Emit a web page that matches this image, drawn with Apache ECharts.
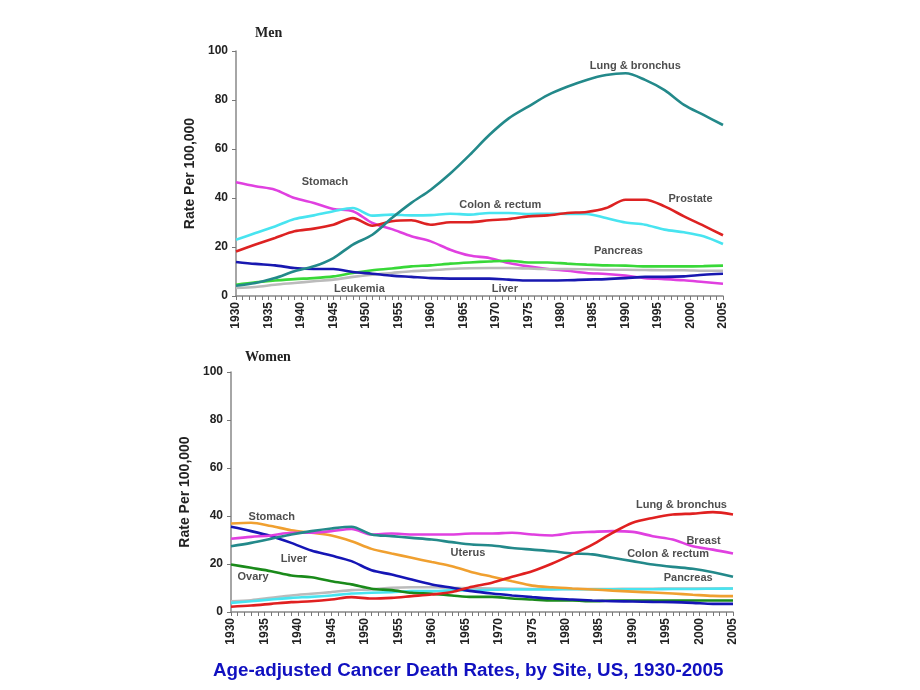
<!DOCTYPE html>
<html><head><meta charset="utf-8">
<script src="https://cdn.jsdelivr.net/npm/echarts@6/dist/echarts.min.js"></script>
<style>html,body{margin:0;padding:0;background:#fff}#c{width:920px;height:690px}</style>
</head><body><div id="c"></div>
<script>
// Years sampled every 3 years
const years = [1930,1933,1936,1939,1942,1945,1948,1951,1954,1957,1960,1963,1966,1969,1972,1975,1978,1981,1984,1987,1990,1993,1996,1999,2002,2005];

// Men
const menLung     = [4.2,5.3,7.3,10.1,12.1,15.5,21,25,31.8,38,43.4,50,57.6,65.7,72.5,77.3,82,85.4,88.2,90.2,90.9,88.2,84,78,73.9,69.8];
const menColon    = [23,25.7,28.4,31.4,32.9,34.6,35.9,32.8,33.2,32.9,33,33.6,33.2,33.9,33.9,33.5,33.6,33.5,33.5,31.8,30,29.1,27.1,26,24.4,21.2];
const menProstate = [18.2,21,23.7,26.4,27.5,29.1,31.8,28.7,30.5,30.9,29.1,30.1,30.1,30.9,31.4,32.5,32.9,33.9,34.3,35.9,39.3,39.3,36.6,32.5,28.7,24.8];
const menStomach  = [46.4,44.8,43.4,40,38,35.5,34.6,29.8,27.3,24.4,22.3,18.9,16.5,15.5,13.5,12.1,11,10.3,9.4,9,8.3,7.3,6.9,6.4,5.7,5.0];
const menPancreas = [4.6,5.6,6.3,6.9,7.3,8.0,9.4,10.5,11.2,12.1,12.5,13.2,13.7,14.1,14.4,13.7,13.7,13.2,12.8,12.5,12.4,12.1,12.1,12.1,12.2,12.4];
const menLeukemia = [3.3,3.7,4.6,5.3,6,6.7,7.8,8.7,9.4,10.1,10.5,11,11.3,11.4,11.4,11.2,11,11,10.9,10.7,10.7,10.6,10.5,10.5,10.3,10.3];
const menLiver    = [13.9,13.1,12.5,11.4,11,11,9.8,9.1,8.3,7.8,7.3,7.1,7.1,7.1,6.7,6.3,6.3,6.4,6.7,6.9,7.3,7.8,7.8,8,8.7,9.1];

// Women
const wLung     = [2.2,2.7,3.4,4.1,4.5,5.2,6.2,5.6,5.9,6.6,7.3,8.3,10.5,12.2,14.7,17,20.2,24,28.1,33,37.2,39.2,40.6,41,41.6,40.6];
const wBreast   = [30.5,31.3,31.9,33,33,33.7,34.6,32.3,32.7,32.3,32.3,32.3,32.7,32.7,33,32.3,31.9,33,33.4,33.7,33.4,31.6,30.2,27.4,26,24.4];
const wColon    = [27.4,28.8,30.5,32.3,33.7,34.8,35.5,32.3,31.6,30.9,30.2,29.1,28.1,27.7,26.7,26,25.3,24.4,24,22.6,21.2,19.8,18.8,18,16.6,14.7];
const wStomach  = [36.9,37.2,35.8,34.1,33,31.9,29.5,26.3,24.4,22.6,20.8,19.1,16.6,14.7,12.8,11,10.3,9.8,9.4,8.9,8.5,8.1,7.7,7.2,6.7,6.6];
const wUterus   = [35.5,33.7,31.6,28.8,25.6,23.5,21.2,17.4,15.6,13.5,11.5,10.1,8.7,7.7,6.9,6.2,5.6,5.2,4.8,4.5,4.4,4.2,4.1,3.8,3.4,3.4];
const wOvary    = [19.8,18.4,17,15.2,14.5,12.8,11.5,9.7,9.1,8,7.6,6.9,6.3,6.3,5.6,5.2,4.8,4.8,4.5,4.8,4.8,4.8,4.8,4.8,4.8,4.8];
const wPancreas = [4.5,4.9,5.9,6.9,7.6,8.3,9.1,9.4,10.1,10.3,10.3,10.1,9.9,9.8,9.7,9.6,9.6,9.6,9.6,9.6,9.7,9.7,9.8,9.8,9.8,9.8];
const wLiver    = [3.8,4.5,5.2,5.9,6.3,6.9,7.7,8,8.3,8.7,8.7,9,8.9,9.3,9.4,9.4,9.4,9.5,9.5,9.5,9.5,9.5,9.6,9.6,9.7,9.8];

// Annotation labels [year, value, text]
const menLabels = [[1943.7,46.5,'Stomach'],[1970.7,37.1,'Colon & rectum'],[2000,39.6,'Prostate'],[1991.5,93.9,'Lung & bronchus'],[1988.9,18.4,'Pancreas'],[1949,2.9,'Leukemia'],[1971.4,2.9,'Liver']];
const womenLabels = [[1936.1,39.4,'Stomach'],[1939.4,21.9,'Liver'],[1933.3,14.4,'Ovary'],[1965.4,24.8,'Uterus'],[1997.3,44.4,'Lung & bronchus'],[2000.6,29.8,'Breast'],[1995.3,24,'Colon & rectum'],[1998.3,14,'Pancreas']];

const pairs = arr => years.map((y,i)=>[y,arr[i]]);
const FONT = 'Liberation Sans, Arial, sans-serif';

function line(name, arr, color, gi){
  return {name, type:'line', xAxisIndex:gi, yAxisIndex:gi, data:pairs(arr), showSymbol:false, smooth:0.3,
    lineStyle:{color, width:2.6}, itemStyle:{color}, silent:true, z:2};
}
function labels(arr, gi){
  return {type:'scatter', xAxisIndex:gi, yAxisIndex:gi, symbolSize:1, itemStyle:{color:'rgba(0,0,0,0)'}, silent:true, z:5,
    data:arr.map(a=>({value:[a[0],a[1]], name:a[2]})),
    label:{show:true, position:'inside', formatter:'{b}', fontFamily:FONT, fontWeight:'bold', fontSize:11, color:'#222'}};
}
function xAx(gi){
  return {type:'value', gridIndex:gi, min:1930, max:2005, interval:5,
    axisLine:{show:true, lineStyle:{color:'#888', width:1.5}},
    axisTick:{show:true, length:4, lineStyle:{color:'#777'}},
    minorTick:{show:true, splitNumber:5, length:4, lineStyle:{color:'#777'}},
    splitLine:{show:false}, minorSplitLine:{show:false},
    axisLabel:{rotate:90, fontFamily:FONT, fontWeight:'bold', fontSize:12, color:'#222', margin:6, formatter:v=>String(v)}};
}
function yAx(gi){
  return {type:'value', gridIndex:gi, min:0, max:100, interval:20,
    name:'Rate Per 100,000', nameLocation:'middle', nameGap:30, nameRotate:90,
    nameTextStyle:{fontFamily:FONT, fontWeight:'bold', fontSize:14, color:'#222'},
    axisLine:{show:true, lineStyle:{color:'#888', width:1.5}},
    axisTick:{show:true, length:4, lineStyle:{color:'#777'}},
    splitLine:{show:false},
    axisLabel:{fontFamily:FONT, fontWeight:'bold', fontSize:12, color:'#222', margin:8}};
}

const chart = echarts.init(document.getElementById('c'), null, {renderer:'canvas'});
chart.setOption({
  animation:false,
  backgroundColor:'#fff',
  title:[
    {text:'Men', left:250, top:21, textStyle:{fontFamily:'Liberation Serif, Times New Roman, serif', fontWeight:'bold', fontSize:14, color:'#222'}},
    {text:'Women', left:240, top:345, textStyle:{fontFamily:'Liberation Serif, Times New Roman, serif', fontWeight:'bold', fontSize:14, color:'#222'}},
    {text:'Age-adjusted Cancer Death Rates, by Site, US, 1930-2005', left:208, top:656, textStyle:{fontFamily:FONT, fontWeight:'bold', fontSize:18.8, color:'#1010c0'}}
  ],
  grid:[
    {left:236, right:197, top:51, bottom:394},
    {left:231, right:187, top:372, bottom:78}
  ],
  xAxis:[xAx(0), xAx(1)],
  yAxis:[yAx(0), yAx(1)],
  series:[
    line('Stomach', menStomach, '#e040e0', 0),
    line('Colon & rectum', menColon, '#48e4f0', 0),
    line('Prostate', menProstate, '#dd2222', 0),
    line('Leukemia', menLeukemia, '#bbbbbb', 0),
    line('Pancreas', menPancreas, '#38d838', 0),
    line('Liver', menLiver, '#1818b0', 0),
    line('Lung & bronchus', menLung, '#23898a', 0),
    labels(menLabels, 0),
    line('Pancreas', wPancreas, '#bbbbbb', 1),
    line('Liver', wLiver, '#48e4f0', 1),
    line('Ovary', wOvary, '#1a8a1a', 1),
    line('Uterus', wUterus, '#1515b5', 1),
    line('Stomach', wStomach, '#f0a030', 1),
    line('Breast', wBreast, '#e040e0', 1),
    line('Colon & rectum', wColon, '#23898a', 1),
    line('Lung & bronchus', wLung, '#e02020', 1),
    labels(womenLabels, 1)
  ]
});
</script></body></html>
